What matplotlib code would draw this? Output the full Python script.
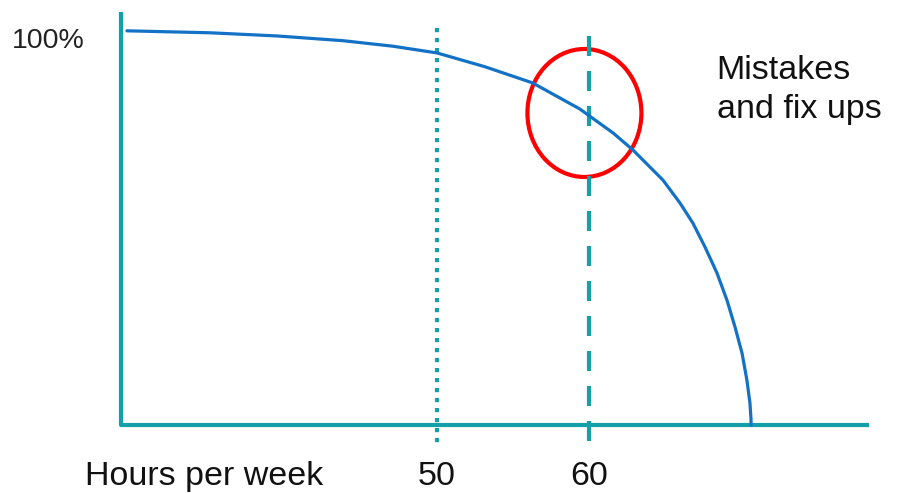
import matplotlib
matplotlib.use("Agg")
import matplotlib.pyplot as plt
from matplotlib.patches import Ellipse

plt.rcParams['font.family'] = ['Liberation Sans', 'DejaVu Sans']

# curve: hours per week vs. productivity (%)
hours = [29.6, 35.07, 39.47, 43.82, 47.1, 50.0, 53.16, 56.3, 59.4, 61.6,
         62.9, 64.87, 65.99, 66.84, 67.63, 68.42, 69.08, 69.61, 70.07,
         70.39, 70.59, 70.66, 70.67]
output = [99.8, 99.3, 98.5, 97.3, 95.9, 94.2, 90.7, 86.6, 80.0, 73.9,
          69.6, 62.0, 56.2, 51.1, 45.1, 38.5, 31.6, 24.8, 18.2,
          11.4, 5.6, 1.5, 0.0]

marks = [50, 60]
mark_labels = ["50", "60"]

teal = '#14A0A8'
blue = '#1372C6'

fig = plt.figure(figsize=(9.15, 4.93), dpi=100)
ax = fig.add_axes([0, 0, 1, 1])
ax.set_xlim(21.25, 81.45)
ax.set_ylim(-17.2, 107.6)
ax.axis('off')

# axes drawn by hand (teal L shape)
ax.plot([29.2, 29.2, 78.4], [104.6, 0, 0], color=teal, lw=3,
        solid_joinstyle='round', solid_capstyle='butt')

# reference lines at 50 and 60 hours
ax.plot([marks[0], marks[0]], [100.5, -5.1], color=teal, lw=3,
        linestyle=(0, (1, 1.4)), dash_capstyle='butt')
ax.plot([marks[1], marks[1]], [98.5, -5.1], color=teal, lw=3,
        linestyle=(0, (4.8, 3.6)), dash_capstyle='butt')

ax.plot(hours, output, color=blue, lw=2.3, solid_joinstyle='round',
        solid_capstyle='round')

ax.add_patch(Ellipse((59.7, 79.0), 7.5, 32.4, fill=False,
                     edgecolor='#FF0000', lw=3))

ax.text(24.44, 95.4, "100%", fontsize=20.5, ha='center', va='baseline', color='#222222')
ax.text(68.4, 87.6, "Mistakes", fontsize=24.5, ha='left', va='baseline', color='#111111')
ax.text(68.4, 77.7, "and fix ups", fontsize=24.5, ha='left', va='baseline', color='#111111')
ax.text(34.7, -15.2, "Hours per week", fontsize=24.5, ha='center', va='baseline', color='#111111')
for m, lab in zip(marks, mark_labels):
    ax.text(m, -15.2, lab, fontsize=24.5, ha='center', va='baseline', color='#111111')

fig.savefig("out.png", dpi=100)
